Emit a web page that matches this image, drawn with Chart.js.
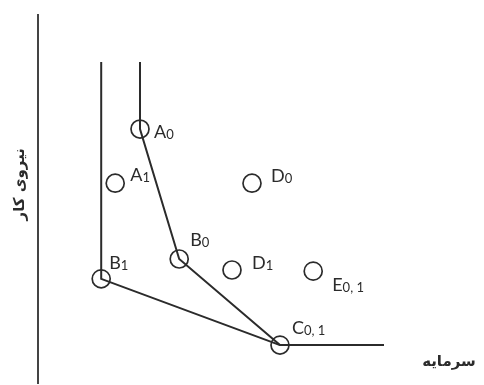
<!DOCTYPE html>
<html>
<head>
<meta charset="utf-8">
<script src="https://cdn.jsdelivr.net/npm/chart.js@4"></script>
<style>
  html, body { margin: 0; padding: 0; background: #fff; }
  #wrap { width: 484px; height: 385px; }
</style>
</head>
<body>
<div id="wrap"><canvas id="grafico" width="484" height="385"></canvas></div>
<script>
// Datos de las unidades (capital en x, trabajo en y)
const nombres = ['A', 'A', 'D', 'B', 'B', 'D', 'E', 'C'];
const subindices = ['0', '1', '0', '0', '1', '1', '0, 1', '0, 1'];
const capital = [2.55, 1.93, 5.35, 3.53, 1.58, 4.85, 6.88, 6.05];
const trabajo = [6.90, 5.43, 5.43, 3.37, 2.83, 3.07, 3.04, 1.03];

// Frontera periodo 0: A0 - B0 - C
const frontera0X = [2.55, 2.55, 3.53, 6.05, 8.65];
const frontera0Y = [8.72, 6.90, 3.37, 1.03, 1.03];

// Frontera periodo 1: B1 - C
const frontera1X = [1.58, 1.58, 6.05];
const frontera1Y = [8.72, 2.83, 1.03];

// Desplazamiento de etiquetas (px)
const desplazamientos = [[14, 3], [15, -8], [19, -7], [11, -19], [8, -16], [20, -7], [19, 14], [12, -17]];

const color = '#2b2b2b';

const puntos = capital.map((x, i) => ({ x: x, y: trabajo[i] }));
const linea0 = frontera0X.map((x, i) => ({ x: x, y: frontera0Y[i] }));
const linea1 = frontera1X.map((x, i) => ({ x: x, y: frontera1Y[i] }));

// Plugin para etiquetas y títulos
const etiquetas = {
    id: 'etiquetas',
    afterDatasetsDraw(chart) {
        const ctx = chart.ctx;
        const xs = chart.scales.x;
        const ys = chart.scales.y;
        ctx.save();
        ctx.fillStyle = color;
        ctx.textBaseline = 'middle';
        ctx.textAlign = 'left';
        puntos.forEach((p, i) => {
            const px = xs.getPixelForValue(p.x) + desplazamientos[i][0];
            const py = ys.getPixelForValue(p.y) + desplazamientos[i][1];
            ctx.font = '18px Lato';
            ctx.fillText(nombres[i], px, py);
            const w = ctx.measureText(nombres[i]).width;
            ctx.font = '13px Lato';
            ctx.fillText(subindices[i], px + w, py + 3);
        });

        // Títulos de ejes
        const area = chart.chartArea;
        ctx.font = 'bold 15px "DejaVu Sans"';
        ctx.textAlign = 'center';
        ctx.direction = 'rtl';
        ctx.fillText('سرمایه', 449, 362);
        ctx.translate(area.left - 18, ys.getPixelForValue(5.4));
        ctx.rotate(-Math.PI / 2);
        ctx.fillText('نیروی کار', 0, 0);
        ctx.restore();
    }
};

new Chart(document.getElementById('grafico'), {
    type: 'scatter',
    data: {
        datasets: [
            {
                data: puntos,
                showLine: false,
                pointRadius: 9,
                pointHoverRadius: 9,
                pointBorderWidth: 1.7,
                pointBorderColor: color,
                pointBackgroundColor: 'rgba(0,0,0,0)',
                clip: false
            },
            {
                data: linea0,
                showLine: true,
                borderColor: color,
                borderWidth: 2,
                pointRadius: 0,
                tension: 0,
                clip: false
            },
            {
                data: linea1,
                showLine: true,
                borderColor: color,
                borderWidth: 2,
                pointRadius: 0,
                tension: 0,
                clip: false
            }
        ]
    },
    options: {
        responsive: false,
        animation: false,
        events: [],
        layout: { padding: { left: 38, top: 15, right: 46, bottom: 2 }, autoPadding: false },
        plugins: { legend: { display: false }, tooltip: { enabled: false } },
        scales: {
            x: {
                type: 'linear',
                min: 0,
                max: 10,
                ticks: { display: false },
                grid: { display: false, drawTicks: false, tickLength: 0 },
                border: { display: false }
            },
            y: {
                type: 'linear',
                min: 0,
                max: 10,
                ticks: { display: false },
                grid: { display: false, drawTicks: false, tickLength: 0 },
                border: { display: true, color: '#444', width: 2 }
            }
        }
    },
    plugins: [etiquetas]
});
</script>
</body>
</html>
